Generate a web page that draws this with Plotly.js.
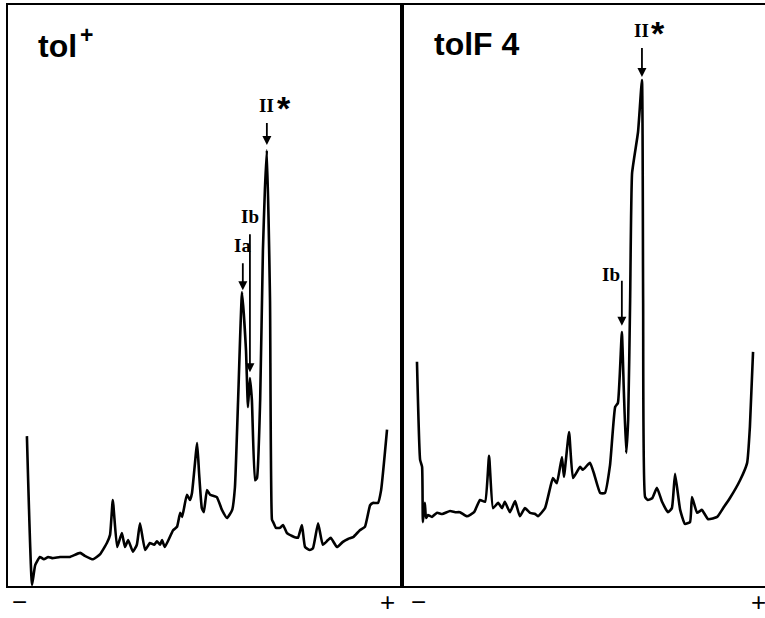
<!DOCTYPE html>
<html>
<head>
<meta charset="utf-8">
<script src="https://cdn.plot.ly/plotly-3.0.1.min.js"></script>
<style>html,body{margin:0;padding:0;background:#fff;}#chart{width:765px;height:618px;}</style>
</head>
<body>
<div id="chart"></div>
<script>
// Densitometer scans: migration distance (mm, - to +) vs absorbance (arbitrary units)
const tolPlusPos = [4.8,6.1,6.9,8.1,9.1,10.2,11.2,13.2,15.7,18.3,19.5,21.6,23.4,25.1,25.9,26.6,27.7,28.9,29.7,30.5,31.7,32.7,33.5,34.8,36.0,37.1,37.8,38.6,39.1,39.8,41.9,42.9,43.7,44.2,45.4,46.2,46.7,48.0,48.5,49.2,49.7,50.5,51.3,53.0,54.3,55.6,56.9,57.6,58.4,59.4,60.4,60.9,61.4,61.9,62.7,63.2,64.0,64.7,65.2,65.7,66.5,67.0,67.3,68.0,69.0,69.8,70.8,72.1,72.8,73.6,74.6,75.4,76.6,77.4,78.7,79.9,81.2,81.9,83.5,85.0,86.3,87.6,89.3,90.6,91.9,92.6,93.9,94.7,96.2];
const tolPlusAbs = [25.8,0.2,3.6,5.0,4.6,5.0,4.8,5.0,5.0,5.7,5.2,4.6,5.5,7.4,8.8,14.8,6.7,9.1,6.7,7.9,5.9,7.1,10.8,6.2,7.4,7.1,7.7,7.1,7.9,6.7,9.6,10.2,12.6,11.9,15.7,14.8,16.0,24.6,19.4,13.4,12.7,16.5,15.7,15.3,13.1,11.7,13.1,17.0,32.0,50.6,40.6,30.8,35.8,32.0,18.2,18.6,32.0,57.8,68.2,75.0,49.2,11.4,11.0,10.0,10.0,10.5,9.1,8.6,8.4,8.3,10.5,6.7,6.2,6.5,10.8,7.1,7.9,8.3,6.7,7.6,8.1,8.4,9.6,10.2,13.9,14.3,14.3,16.5,26.9];

const tolF4Pos = [3.8,4.6,5.1,5.3,5.8,6.1,6.6,7.6,8.9,10.2,12.2,13.5,14.7,16.5,18.3,19.8,21.1,22.1,23.1,24.4,25.4,26.1,27.4,28.7,29.9,31.2,32.5,33.8,34.5,36.3,37.6,38.3,39.3,40.6,41.1,42.4,43.4,45.2,45.9,47.7,48.7,50.3,51.5,52.8,54.1,54.8,55.8,56.3,56.9,57.4,57.9,58.4,59.9,60.9,61.2,61.7,62.4,63.5,64.7,66.0,67.5,68.5,69.3,70.6,71.8,73.1,73.6,74.9,76.1,77.7,80.0,81.5,83.2,85.8,87.6,88.3,89.1];
const tolF4Abs = [38.6,21.7,20.5,11.0,14.3,11.7,12.2,11.9,12.6,12.4,12.9,12.7,12.7,12.0,12.7,14.8,14.5,22.4,13.4,14.3,13.4,14.5,12.7,14.6,12.0,13.4,12.6,12.4,12.0,13.4,16.9,18.6,17.7,22.2,18.8,26.5,18.6,20.5,20.0,21.2,19.4,16.0,16.0,20.8,30.8,31.5,43.7,33.7,22.9,28.6,49.2,71.1,78.1,87.1,49.2,15.3,14.8,15.1,16.9,14.5,12.7,13.4,19.3,13.1,10.7,11.0,15.3,12.6,13.1,11.5,11.9,13.4,15.1,18.2,21.2,27.4,40.3];

const panelTitles = ["tol", "tolF 4"];
const titleSuperscripts = ["+", ""];
const endLabels = ["\u2212", "+"];
const leftEndTicks = [3.0, 96.2];
const rightEndTicks = [4.1, 90.4];

// peak markers: arrow tip (x, y), label offset in px (ax, ay), label anchor, optional asterisk position
const peakLabelsLeft = [
  {label:"II", x:65.7, y:75.9, ax:0, ay:-40, anchor:"center", star:[70.0, 83.0]},
  {label:"Ib", x:61.4, y:36.8, ax:0, ay:-156, anchor:"center"},
  {label:"Ia", x:59.6, y:50.9, ax:0, ay:-45, anchor:"center"}
];
const peakLabelsRight = [
  {label:"II", x:60.9, y:87.6, ax:0, ay:-47, anchor:"center", star:[65.0, 95.9]},
  {label:"Ib", x:55.8, y:44.8, ax:0, ay:-51, anchor:"right"}
];

const W = 765, H = 618;
const pl = 8, pm = 402, pt = 5, pb = 586;
const traceStyle = {color:"#000", width:2.6, shape:"spline", smoothing:0.4};

const data = [
  {x: tolPlusPos, y: tolPlusAbs, xaxis:"x", yaxis:"y", mode:"lines", line:traceStyle, hoverinfo:"skip"},
  {x: tolF4Pos, y: tolF4Abs, xaxis:"x2", yaxis:"y2", mode:"lines", line:traceStyle, hoverinfo:"skip"}
];

const serif = {family:"Liberation Serif, DejaVu Serif, serif", size:19, color:"#000"};
const sans = "Liberation Sans, Arial, sans-serif";
const annotations = [];
function addPeaks(list, xr, yr){
  list.forEach(p=>{
    annotations.push({xref:xr, yref:yr, x:p.x, y:p.y, ax:p.ax, ay:p.ay, xanchor:p.anchor, yanchor:"middle",
      text:"<b>"+p.label+"</b>", font:serif, showarrow:true,
      arrowhead:2, arrowsize:1, arrowwidth:1.8, arrowcolor:"#000", standoff:0, startstandoff:6});
    if (p.star) {
      annotations.push({xref:xr, yref:yr, x:p.star[0], y:p.star[1], text:"<b>*</b>", showarrow:false,
        yshift:-4, font:{family:sans, size:34, color:"#000"}});
    }
  });
}
addPeaks(peakLabelsLeft, "x", "y");
addPeaks(peakLabelsRight, "x2", "y2");

annotations.push({xref:"x domain", yref:"y domain", x:(36-pl)/(pm-pl), y:(pb-46)/(pb-pt), xanchor:"left", yanchor:"middle",
  text:"<b>"+panelTitles[0]+"</b>", showarrow:false, font:{family:sans, size:32, color:"#000"}});
annotations.push({xref:"x domain", yref:"y domain", x:(86-pl)/(pm-pl), y:(pb-35)/(pb-pt), xanchor:"center", yanchor:"middle",
  text:"<b>"+titleSuperscripts[0]+"</b>", showarrow:false, font:{family:sans, size:23, color:"#000"}});
annotations.push({xref:"x2 domain", yref:"y2 domain", x:(432-pm)/(W-pm), y:(pb-44)/(pb-pt), xanchor:"left", yanchor:"middle",
  text:"<b>"+panelTitles[1]+"</b>", showarrow:false, font:{family:sans, size:32, color:"#000"}});

// end-of-gel polarity labels
[[ "x", leftEndTicks ], ["x2", rightEndTicks]].forEach(([xr, vals])=>{
  vals.forEach((v,i)=>{
    annotations.push({xref:xr, yref:"paper", x:v, y:0, text:endLabels[i], showarrow:false,
      xanchor:"center", yanchor:"bottom", borderpad:0, font:{family:sans, size:26, color:"#000"}});
  });
});

const axCommon = {showgrid:false, zeroline:false, showline:true, linecolor:"#000", linewidth:2, ticks:"", showticklabels:false, fixedrange:true};
const yd = [(H-pb)/H, (H-pt)/H];
const layout = {
  width:W, height:H, margin:{l:0,r:0,t:0,b:0}, paper_bgcolor:"#fff", plot_bgcolor:"#fff", showlegend:false,
  xaxis: Object.assign({}, axCommon, {domain:[pl/W, pm/W], range:[0,100], mirror:true, anchor:"y"}),
  yaxis: Object.assign({}, axCommon, {domain:yd, range:[0,100], mirror:true, anchor:"x"}),
  xaxis2: Object.assign({}, axCommon, {domain:[pm/W, 1], range:[0,(W-pm)/(pm-pl)*100], mirror:true, anchor:"y2"}),
  yaxis2: Object.assign({}, axCommon, {domain:yd, range:[0,100], mirror:false, anchor:"x2"}),
  annotations: annotations
};
Plotly.newPlot("chart", data, layout, {staticPlot:true});
</script>
</body>
</html>
